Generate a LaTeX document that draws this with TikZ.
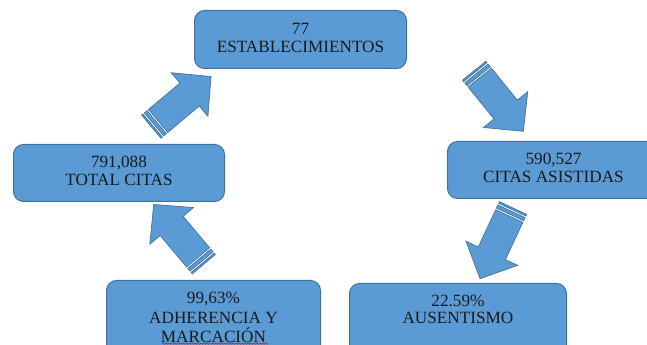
\documentclass[tikz,border=0pt]{standalone}
\usepackage{fontspec}
\setmainfont{Liberation Serif}
\usetikzlibrary{decorations.pathmorphing}
\definecolor{boxfill}{HTML}{5B9BD5}
\definecolor{boxline}{HTML}{41719C}
\definecolor{txtcol}{HTML}{1A1A1A}
\newcommand{\boxtxt}[3]{\begin{minipage}[t][#2][t]{#1}\centering #3\end{minipage}}
\begin{document}
\begin{tikzpicture}[x=0.75pt,y=-0.75pt,
  flowbox/.style={draw=boxline, fill=boxfill, line width=0.75pt, rounded corners=7.5pt,
    inner xsep=0pt, inner ysep=8.8pt, anchor=north west, text=txtcol,
    font=\fontsize{12.9}{13.2}\selectfont},
  arrowpart/.style={draw=boxline, fill=boxfill, line width=0.5pt, line join=miter},
  stripedarrow/.pic={
    \path[arrowpart] (0,-15) rectangle (1.8,15);
    \path[arrowpart] (3.6,-15) rectangle (7.1,15);
    \path[arrowpart] (8.9,-15) -- (50,-15) -- (50,-28.5) -- (78,0) -- (50,28.5) -- (50,15) -- (8.9,15) -- cycle;
  }]
\useasboundingbox (0,0) rectangle (647,345);
\fill[white] (0,0) rectangle (647,345);
\clip (0,0) rectangle (647,345);

\node[flowbox, inner ysep=9.6pt] (estab) at (194,10)
  {\boxtxt{159pt}{24.3pt}{77\\ESTABLECIMIENTOS}};
\node[flowbox] (total) at (13,144)
  {\boxtxt{158.25pt}{25.15pt}{791,088\\TOTAL CITAS}};
\node[flowbox] (asist) at (447,141)
  {\boxtxt{159pt}{25.15pt}{590,527\\CITAS ASISTIDAS}};
\node[flowbox, inner ysep=9pt] (adher) at (106,280)
  {\boxtxt{160.5pt}{42pt}{99,63\%\\[1.3pt]ADHERENCIA Y\\[1.3pt]MARCACIÓN}};
\node[flowbox, inner ysep=8.3pt] (ausen) at (349,283)
  {\boxtxt{162.75pt}{43.4pt}{22.59\%\\AUSENTISMO}};

\pic (a1) [rotate=40] at (151.3,126.7) {stripedarrow};
\pic (a2) [rotate=-51] at (474.2,70.7) {stripedarrow};
\pic (a3) [rotate=-115] at (513,208) {stripedarrow};
\pic (a4) [rotate=130] at (203.8,264.2) {stripedarrow};

\draw[red, line width=0.4pt, decorate, decoration={snake, segment length=2.2pt, amplitude=0.5pt}]
  (162,343.6) -- (268,343.6);
\end{tikzpicture}
\end{document}
